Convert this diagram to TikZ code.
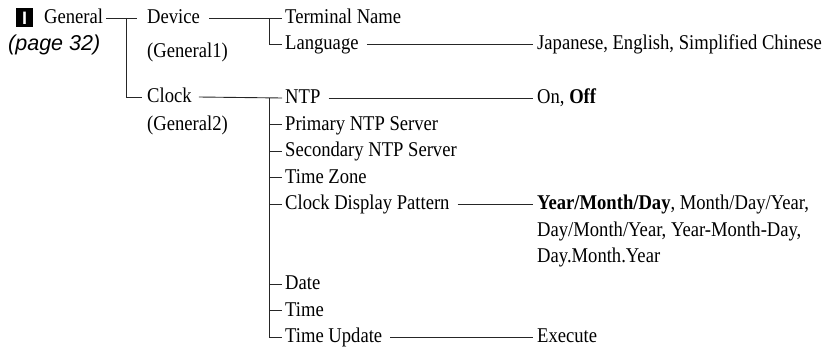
\documentclass[tikz,border=0pt]{standalone}
\usepackage{fontspec}
\setmainfont{Liberation Serif}[FakeStretch=0.886]
\newfontfamily\pagefont{Liberation Sans}
\begin{document}
\begin{tikzpicture}[x=1pt,y=-1pt,
  lbl/.style={anchor=west,inner sep=0pt,text height=15.5pt,text depth=4.5pt,font=\fontsize{21}{26.5}\selectfont},
  conn/.style={line width=0.9pt,black!85}]
\useasboundingbox (0,0) rectangle (829,353);
% level 0
\node[fill=black,minimum width=17pt,minimum height=19pt,inner sep=0pt,text=white,font=\pagefont\bfseries\fontsize{18}{18}\selectfont] (box) at (24.5,18) {I};
\node[lbl] (general) at (44,18) {General};
\node[lbl,font=\pagefont\itshape\fontsize{21.5}{24}\selectfont] (page) at (8,45) {(page 32)};
% level 1
\node[lbl] (device) at (147,18) {Device};
\node[lbl] (gen1) at (147,52) {(General1)};
\node[lbl] (clock) at (147,97) {Clock};
\node[lbl] (gen2) at (147,125) {(General2)};
% level 2
\node[lbl] (terminal) at (285,18) {Terminal Name};
\node[lbl] (language) at (285,44) {Language};
\node[lbl] (ntp) at (285,98) {NTP};
\node[lbl] (primary) at (285,124.5) {Primary NTP Server};
\node[lbl] (secondary) at (285,151) {Secondary NTP Server};
\node[lbl] (tz) at (285,177.5) {Time Zone};
\node[lbl] (cdp) at (285,204) {Clock Display Pattern};
\node[lbl] (date) at (285,284) {Date};
\node[lbl] (time) at (285,310.5) {Time};
\node[lbl] (tu) at (285,337) {Time Update};
% level 3
\node[lbl] (langval) at (537,44) {Japanese, English, Simplified Chinese};
\node[lbl] (ntpval) at (537,98) {On, \textbf{Off}};
\node[anchor=base west,inner sep=0pt,align=left,font=\fontsize{21}{26.5}\selectfont\frenchspacing] (cdv) at (537,262.5) {\textbf{Year/Month/Day}, Month/Day/Year,\\Day/Month/Year, Year-Month-Day,\\Day.Month.Year};
\node[lbl] (exec) at (537,337) {Execute};
% junctions
\coordinate (j1) at (126,0);
\coordinate (j2) at (269,0);
% connectors
\draw[conn] ([xshift=3pt]general.east) -- ([xshift=-10pt]device.west);
\draw[conn] (j1 |- device.west) |- ([xshift=-5pt]clock.west);
\draw[conn] ([xshift=9pt]device.east) -- ([xshift=-3pt]terminal.west);
\draw[conn] (j2 |- terminal.west) |- ([xshift=-3pt]language.west);
\draw[conn] ([xshift=8pt]language.east) -- ([xshift=-4pt]langval.west);
\draw[conn] ([xshift=7pt]clock.east) -- ([xshift=-3pt]ntp.west);
\draw[conn] (j2 |- ntp.west) |- ([xshift=-3pt]tu.west);
\foreach \n in {primary,secondary,tz,cdp,date,time}
  \draw[conn] (j2 |- \n.west) -- ([xshift=-3pt]\n.west);
\draw[conn] ([xshift=8pt]ntp.east) -- ([xshift=-4pt]ntpval.west);
\draw[conn] ([xshift=8pt]cdp.east) -- ([xshift=-4pt]cdp.west -| cdv.west);
\draw[conn] ([xshift=8pt]tu.east) -- ([xshift=-4pt]exec.west);
\end{tikzpicture}
\end{document}
